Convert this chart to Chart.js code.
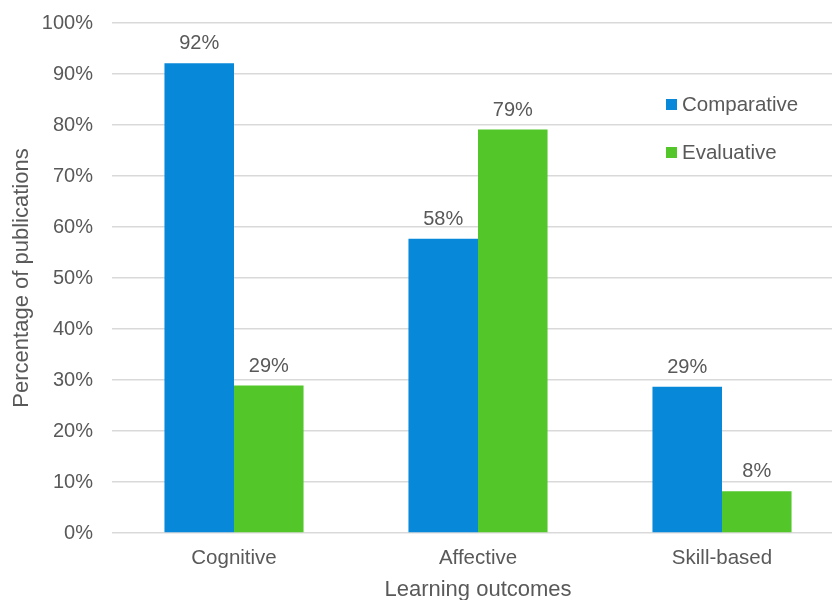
<!DOCTYPE html>
<html>
<head>
<meta charset="utf-8">
<script src="https://cdn.jsdelivr.net/npm/chart.js@4/dist/chart.umd.min.js"></script>
<style>
  html, body { margin: 0; padding: 0; background: #fff; }
  #wrap { width: 832px; height: 600px; overflow: hidden; position: relative; }
</style>
</head>
<body>
<div id="wrap">
  <canvas id="chart" width="850" height="612"></canvas>
</div>
<script>
// data
var categories = ['Cognitive', 'Affective', 'Skill-based'];
var seriesNames = ['Comparative', 'Evaluative'];
var comparative = [92.1, 57.7, 28.7];
var evaluative = [28.9, 79.1, 8.2];
var yTicks = [0, 10, 20, 30, 40, 50, 60, 70, 80, 90, 100];

var blue = '#0788d9';
var green = '#53c72a';
var textCol = '#595959';
var fontFam = '"Liberation Sans", Arial, sans-serif';

// value labels above each bar
var valueLabels = {
    id: 'valueLabels',
    afterDatasetsDraw: function(chart) {
        var ctx = chart.ctx;
        ctx.save();
        ctx.font = '20px ' + fontFam;
        ctx.fillStyle = textCol;
        ctx.textAlign = 'center';
        ctx.textBaseline = 'alphabetic';
        chart.data.datasets.forEach(function(ds, i) {
            var meta = chart.getDatasetMeta(i);
            meta.data.forEach(function(bar, j) {
                ctx.fillText(Math.round(ds.data[j]) + '%', bar.x, bar.y - 14);
            });
        });
        ctx.restore();
    }
};

// legend inside the plot, on the right
var sideLegend = {
    id: 'sideLegend',
    afterDraw: function(chart) {
        var ctx = chart.ctx;
        ctx.save();
        ctx.font = '20.5px ' + fontFam;
        ctx.textBaseline = 'middle';
        ctx.textAlign = 'left';
        chart.data.datasets.forEach(function(ds, i) {
            var y = 104.5 + i * 48;
            ctx.fillStyle = ds.backgroundColor;
            ctx.fillRect(666, y - 5.5, 11, 11);
            ctx.fillStyle = textCol;
            ctx.fillText(ds.label, 682, y + 1);
        });
        ctx.restore();
    }
};

var chart = new Chart(document.getElementById('chart'), {
    type: 'bar',
    data: {
        labels: categories,
        datasets: [
            { label: seriesNames[0], data: comparative, backgroundColor: blue },
            { label: seriesNames[1], data: evaluative, backgroundColor: green }
        ]
    },
    options: {
        responsive: false,
        animation: false,
        events: [],
        layout: { padding: { top: 23, right: 6, left: 0, bottom: 0 } },
        datasets: {
            bar: { categoryPercentage: 0.57, barPercentage: 1.0 }
        },
        plugins: {
            legend: { display: false },
            tooltip: { enabled: false }
        },
        scales: {
            x: {
                grid: { display: false, drawTicks: false },
                border: { display: false },
                ticks: { color: textCol, font: { family: fontFam, size: 20.5 }, padding: 13 },
                title: {
                    display: true,
                    text: 'Learning outcomes',
                    color: textCol,
                    font: { family: fontFam, size: 22 },
                    padding: { top: 0, bottom: 9 }
                },
                afterFit: function(scale) { scale.height = 79; }
            },
            y: {
                min: 0,
                max: 100,
                afterBuildTicks: function(scale) {
                    scale.ticks = yTicks.map(function(v) { return { value: v }; });
                },
                grid: { color: '#d9d9d9', lineWidth: 1.5, drawTicks: false },
                border: { display: false },
                ticks: {
                    color: textCol,
                    font: { family: fontFam, size: 20 },
                    padding: 19,
                    callback: function(v) { return v + '%'; }
                },
                title: {
                    display: true,
                    text: 'Percentage of publications',
                    color: textCol,
                    font: { family: fontFam, size: 22 },
                    padding: { top: 9, bottom: 0 }
                },
                afterFit: function(scale) {
                    scale.width = 112;
                    // tick padding should not push the plot area down
                    scale.paddingTop = 0;
                    scale.paddingBottom = 0;
                }
            }
        }
    },
    plugins: [valueLabels, sideLegend]
});
</script>
</body>
</html>
